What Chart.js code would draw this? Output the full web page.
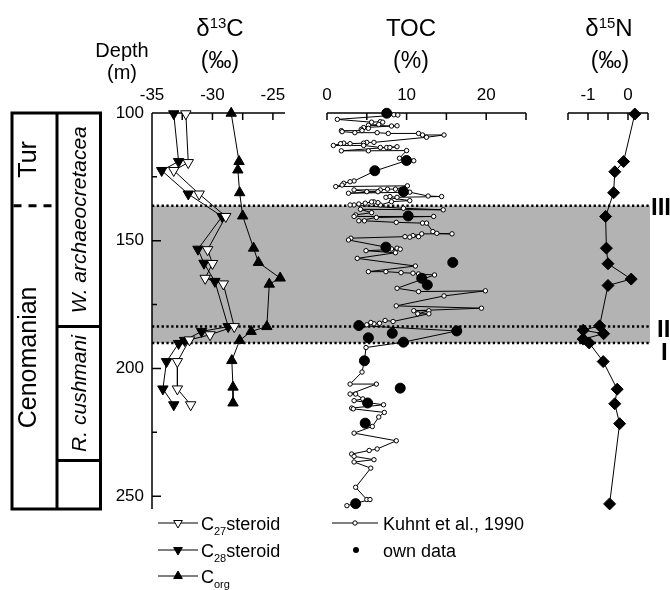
<!DOCTYPE html>
<html>
<head>
<meta charset="utf-8">
<script src="https://cdn.jsdelivr.net/npm/chart.js@4.4.1/dist/chart.umd.min.js"></script>
<style>
  html, body { margin: 0; padding: 0; background: #fff; }
  #wrap { position: relative; width: 670px; height: 590px; }
  #wrap canvas { position: absolute; left: 0; top: 0; }
</style>
</head>
<body>
<div id="wrap">
  <canvas id="c13" width="670" height="590"></canvas>
  <canvas id="toc" width="670" height="590"></canvas>
  <canvas id="n15" width="670" height="590"></canvas>
</div>
<script>
var FONT = '"Liberation Sans", Arial, Helvetica, sans-serif';

// depth axis (m)
var depthMin = 100, depthMax = 255;
var depthTicks = [100, 125, 150, 175, 200, 225, 250];
var depthLabels = [100, 150, 200, 250];

// top axes
var c13Ticks = [-35, -32.5, -30, -27.5, -25], c13Labels = [-35, -30, -25];
var tocTicks = [0, 5, 10, 15, 20, 25], tocLabels = [0, 10, 20];
var n15Ticks = [-1.5, -1, -0.5, 0, 0.5], n15Labels = [-1, 0];

// event levels III, II, I
var eventDepth = [136.3, 183.6, 190.0];
var eventName = ['III', 'II', 'I'];

// stratigraphy
var stageBounds = [100, 136.3, 255];
var stageNames = ['Tur', 'Cenomanian'];
var zoneBounds = [100, 183.6, 236, 255];
var zoneNames = ['W. archaeocretacea', 'R. cushmani', ''];

// delta 13C (per mil)
var c27Depth = [100.3, 119.4, 122.5, 131.7, 140.5, 153.5, 158.9, 164.7, 166.9, 183.6, 186.8, 188.8, 197.3, 208.0, 214.2];
var c27 = [-32.2, -32.0, -33.2, -31.1, -28.9, -30.4, -30.0, -30.6, -29.1, -28.2, -30.2, -31.9, -32.9, -32.9, -31.8];
var c28Depth = [100.3, 119.0, 122.5, 131.7, 140.5, 153.3, 158.8, 165.9, 183.6, 185.5, 189.0, 190.2, 197.3, 208.0, 214.2];
var c28 = [-33.2, -32.8, -34.2, -32.0, -29.2, -31.2, -30.7, -29.8, -28.7, -30.9, -32.3, -32.8, -33.8, -34.1, -33.2];
var corgDepth = [100.1, 119.0, 122.3, 131.2, 140.3, 152.9, 158.5, 164.6, 167.0, 183.6, 185.5, 189.0, 196.9, 207.3, 213.5];
var corg = [-28.45, -27.8, -27.9, -27.75, -27.5, -26.6, -26.2, -24.4, -25.3, -25.5, -26.8, -27.75, -28.4, -28.3, -28.3];

// TOC (%), Kuhnt et al. 1990
var kuhntDepth = [100.7, 100.8, 102.5, 103.6, 103.4, 103.6, 104.5, 104.8, 105.1, 105.0,
  105.7, 106.0, 106.4, 106.9, 106.9, 107.3, 107.7, 107.7, 108.0, 108.0,
  108.6, 108.6, 109.5, 111.5, 111.5, 111.8, 112.0, 111.8, 112.0, 112.7,
  112.7, 113.5, 113.5, 113.5, 113.2, 114.8, 114.8, 114.7, 117.7, 118.7,
  118.6, 122.6, 126.6, 126.9, 127.5, 128.2, 128.8, 128.5, 129.8, 129.8,
  130.1, 130.1, 130.8, 130.8, 131.4, 131.0, 132.5, 132.7, 133.0, 132.7,
  133.0, 134.3, 134.7, 136.0, 135.1, 134.8, 134.8, 135.3, 135.6, 136.0,
  136.0, 137.3, 137.9, 137.7, 139.0, 139.9, 140.5, 140.5, 140.9, 142.2,
  142.2, 142.8, 143.1, 143.1, 146.4, 147.1, 147.3, 147.3, 148.0, 148.4,
  148.6, 148.4, 149.0, 149.7, 152.5, 153.2, 152.9, 153.3, 153.9, 154.7,
  156.9, 159.9, 162.1, 162.1, 162.5, 162.7, 163.0, 163.4, 168.6, 169.9,
  169.6, 171.6, 175.5, 176.4, 177.4, 177.4, 178.6, 178.6, 181.6, 181.2,
  182.3, 182.5, 182.0, 182.9, 183.2, 185.3, 189.7, 191.8, 197.0, 201.4,
  206.1, 206.1, 210.0, 210.0, 211.9, 212.6, 214.2, 215.5, 215.8, 217.2,
  219.0, 222.7, 225.3, 228.3, 231.5, 232.1, 233.5, 234.4, 235.7, 236.6,
  239.0, 246.5, 251.3, 251.3, 253.7];
var kuhntToc = [8.4, 8.9, 1.3, 5.6, 6.7, 7.0, 6.5, 5.2, 8.1, 8.8,
  4.6, 5.2, 4.3, 4.4, 1.8, 1.9, 3.5, 6.3, 7.7, 11.5,
  12.0, 14.7, 12.5, 5.9, 5.0, 4.6, 2.9, 2.1, 1.7, 0.8,
  4.6, 6.7, 7.5, 7.9, 8.8, 1.8, 5.2, 10.0, 9.1, 10.9,
  10.0, 6.1, 3.4, 2.9, 2.1, 1.9, 1.1, 10.1, 8.6, 7.6,
  6.7, 3.4, 5.0, 6.4, 2.7, 10.4, 12.7, 14.4, 8.8, 7.9,
  7.4, 10.4, 8.1, 6.7, 6.4, 5.9, 5.6, 4.8, 4.0, 3.4,
  2.9, 9.6, 14.6, 4.2, 5.6, 3.6, 3.4, 13.4, 6.2, 4.0,
  4.7, 8.7, 12.0, 12.5, 13.3, 13.8, 15.7, 11.9, 10.8, 11.5,
  10.4, 9.8, 3.0, 2.7, 7.4, 8.1, 8.8, 9.2, 4.9, 8.6,
  3.8, 11.1, 5.2, 7.4, 9.3, 10.8, 11.5, 13.5, 8.8, 11.5,
  19.9, 14.7, 8.7, 19.4, 10.9, 12.8, 11.4, 12.8, 8.3, 7.3,
  6.6, 5.9, 5.5, 5.0, 4.0, 16.3, 9.6, 4.9, 4.7, 4.4,
  2.9, 6.2, 2.9, 3.6, 4.5, 3.4, 7.1, 3.1, 3.3, 7.2,
  6.5, 5.7, 3.4, 8.7, 6.3, 5.3, 3.1, 3.4, 5.9, 3.4,
  5.5, 3.6, 5.0, 5.4, 2.5];

// TOC (%), own data
var ownDepth = [100.1, 118.6, 122.6, 130.8, 140.3, 152.5, 158.5, 164.7, 167.3, 183.2, 185.3, 186.2, 188.0, 189.7, 197.0, 207.7, 213.5, 221.4, 252.9];
var ownToc = [7.5, 10.0, 6.0, 9.6, 10.2, 7.4, 15.8, 11.9, 12.6, 4.0, 16.3, 8.2, 5.2, 9.6, 4.7, 9.2, 5.1, 4.8, 3.6];

// delta 15N (per mil)
var n15Depth = [100.4, 119.0, 123.0, 131.2, 140.5, 152.9, 159.0, 165.0, 167.5, 183.3, 185.0, 186.4, 188.5, 190.0, 197.3, 208.1, 213.8, 221.6, 253.0];
var n15 = [0.17, -0.11, -0.33, -0.36, -0.56, -0.54, -0.5, 0.08, -0.5, -0.71, -1.12, -0.61, -1.12, -0.97, -0.62, -0.27, -0.33, -0.21, -0.46];

var TOP_H = 113, BOTTOM_PAD = 81, BAND_RIGHT = 650;

function pts(xs, ys) {
  return xs.map(function (v, i) { return { x: v, y: ys[i] }; });
}

function xAxis(min, max, ticks, labels) {
  return {
    type: 'linear', position: 'top', min: min, max: max,
    grid: { display: false, drawTicks: false }, border: { display: false },
    afterBuildTicks: function (s) { s.ticks = ticks.map(function (v) { return { value: v }; }); },
    afterFit: function (s) { s.height = TOP_H; },
    ticks: {
      autoSkip: false, maxRotation: 0, padding: 7, color: '#000',
      font: { family: FONT, size: 17 },
      callback: function (v) { return labels.indexOf(v) >= 0 ? String(v) : ''; }
    }
  };
}

function yAxis(show) {
  return {
    type: 'linear', reverse: true, min: depthMin, max: depthMax, display: show,
    grid: { display: false, drawTicks: false }, border: { display: false },
    afterBuildTicks: function (s) { s.ticks = depthTicks.map(function (v) { return { value: v }; }); },
    afterFit: function (s) { s.width = show ? 152 : 0; },
    ticks: {
      autoSkip: false, padding: 8, color: '#000',
      font: { family: FONT, size: 17 },
      callback: function (v) { return depthLabels.indexOf(v) >= 0 ? String(v) : ''; }
    }
  };
}

// axis lines with inward ticks
var axisLines = {
  id: 'axisLines',
  beforeDatasetsDraw: function (chart) {
    var ctx = chart.ctx, a = chart.chartArea, x = chart.scales.x, y = chart.scales.y;
    ctx.save();
    ctx.strokeStyle = '#000';
    ctx.lineWidth = 1.5;
    ctx.beginPath();
    ctx.moveTo(a.left, a.top); ctx.lineTo(a.right, a.top);
    x.ticks.forEach(function (t) {
      var px = x.getPixelForValue(t.value);
      ctx.moveTo(px, a.top); ctx.lineTo(px, a.top + 7);
    });
    if (chart.options.scales.y.display) {
      ctx.moveTo(a.left, a.top); ctx.lineTo(a.left, a.bottom);
      y.ticks.forEach(function (t) {
        var py = y.getPixelForValue(t.value);
        var len = depthLabels.indexOf(t.value) >= 0 ? 9 : 5;
        ctx.moveTo(a.left, py); ctx.lineTo(a.left + len, py);
      });
    }
    ctx.stroke();
    ctx.restore();
  }
};

// grey interval and dotted event lines
var bandPlugin = {
  id: 'band',
  beforeDraw: function (chart) {
    var ctx = chart.ctx, a = chart.chartArea, y = chart.scales.y;
    var y0 = y.getPixelForValue(eventDepth[0]), y1 = y.getPixelForValue(eventDepth[2]);
    ctx.save();
    ctx.fillStyle = '#b3b3b3';
    ctx.fillRect(a.left, y0, BAND_RIGHT - a.left, y1 - y0);
    ctx.restore();
  },
  beforeDatasetsDraw: function (chart) {
    var ctx = chart.ctx, a = chart.chartArea, y = chart.scales.y;
    ctx.save();
    ctx.strokeStyle = '#000';
    ctx.lineWidth = 2.5;
    ctx.setLineDash([2.3, 2.5]);
    eventDepth.forEach(function (d) {
      var py = y.getPixelForValue(d);
      ctx.beginPath(); ctx.moveTo(a.left, py); ctx.lineTo(BAND_RIGHT, py); ctx.stroke();
    });
    ctx.restore();
  }
};

function rich(ctx, parts, x, base, align) {
  var total = 0;
  parts.forEach(function (p) {
    ctx.font = (p.style || '') + ' ' + p.size + 'px ' + FONT;
    p.w = ctx.measureText(p.t).width;
    total += p.w;
  });
  var cx = align === 'center' ? x - total / 2 : x;
  ctx.textAlign = 'left';
  ctx.textBaseline = 'alphabetic';
  parts.forEach(function (p) {
    ctx.font = (p.style || '') + ' ' + p.size + 'px ' + FONT;
    ctx.fillText(p.t, cx, base + (p.dy || 0));
    cx += p.w;
  });
}

function tri(ctx, x, y, r, down, fill) {
  var s = down ? -1 : 1;
  ctx.beginPath();
  ctx.moveTo(x, y - s * r);
  ctx.lineTo(x + 0.866 * r, y + s * 0.5 * r);
  ctx.lineTo(x - 0.866 * r, y + s * 0.5 * r);
  ctx.closePath();
  ctx.fillStyle = fill;
  ctx.fill();
  ctx.stroke();
}

// titles, stratigraphic column, legend, event names
var decor = {
  id: 'decor',
  afterDraw: function (chart) {
    var ctx = chart.ctx, y = chart.scales.y;
    ctx.save();
    ctx.fillStyle = '#000';
    ctx.strokeStyle = '#000';

    // titles
    rich(ctx, [{ t: 'Depth', size: 20 }], 122, 57, 'center');
    rich(ctx, [{ t: '(m)', size: 20 }], 122, 79, 'center');
    rich(ctx, [{ t: '\u03b4', size: 24 }, { t: '13', size: 15, dy: -8 }, { t: 'C', size: 24 }], 220, 36, 'center');
    rich(ctx, [{ t: '(\u2030)', size: 23 }], 220, 68, 'center');
    rich(ctx, [{ t: 'TOC', size: 24 }], 411, 36, 'center');
    rich(ctx, [{ t: '(%)', size: 23 }], 411, 68, 'center');
    rich(ctx, [{ t: '\u03b4', size: 24 }, { t: '15', size: 15, dy: -8 }, { t: 'N', size: 24 }], 609, 36, 'center');
    rich(ctx, [{ t: '(\u2030)', size: 23 }], 610, 68, 'center');

    // stratigraphic column
    var L = 12, M = 57, R = 100.5;
    var top = y.getPixelForValue(stageBounds[0]), bot = y.getPixelForValue(stageBounds[2]);
    ctx.lineWidth = 3;
    ctx.strokeRect(L, top, R - L, bot - top);
    ctx.beginPath();
    ctx.moveTo(M, top); ctx.lineTo(M, bot);
    zoneBounds.slice(1, -1).forEach(function (d) {
      var py = y.getPixelForValue(d);
      ctx.moveTo(M, py); ctx.lineTo(R, py);
    });
    ctx.stroke();
    ctx.setLineDash([8, 7]);
    ctx.beginPath();
    var sp = y.getPixelForValue(stageBounds[1]);
    ctx.moveTo(L + 1.5, sp); ctx.lineTo(M, sp);
    ctx.stroke();
    ctx.setLineDash([]);

    function vtext(txt, cx, d0, d1, font) {
      var cy = (y.getPixelForValue(d0) + y.getPixelForValue(d1)) / 2;
      ctx.save();
      ctx.translate(cx, cy);
      ctx.rotate(-Math.PI / 2);
      ctx.font = font;
      ctx.textAlign = 'center';
      ctx.textBaseline = 'middle';
      ctx.fillText(txt, 0, 0);
      ctx.restore();
    }
    stageNames.forEach(function (n, i) {
      vtext(n, 29, stageBounds[i], stageBounds[i + 1], '25px ' + FONT);
    });
    zoneNames.forEach(function (n, i) {
      if (n) vtext(n, 80, zoneBounds[i], zoneBounds[i + 1], 'italic 21px ' + FONT);
    });

    // event names
    ctx.font = 'bold 24px ' + FONT;
    ctx.textAlign = 'left';
    ctx.textBaseline = 'alphabetic';
    var ex = [651, 657, 661], eb = [9, 10, 17];
    eventName.forEach(function (n, i) {
      ctx.fillText(n, ex[i], y.getPixelForValue(eventDepth[i]) + eb[i]);
    });

    // legend
    var rows = [523, 550, 576];
    ctx.lineWidth = 1;
    ctx.beginPath();
    rows.forEach(function (ry) { ctx.moveTo(158, ry); ctx.lineTo(198, ry); });
    ctx.moveTo(332, rows[0]); ctx.lineTo(378, rows[0]);
    ctx.stroke();
    tri(ctx, 178, rows[0], 5, true, '#fff');
    tri(ctx, 178, rows[1], 5, true, '#000');
    tri(ctx, 178, rows[2], 5, false, '#000');
    ctx.beginPath(); ctx.arc(355, rows[0], 2.2, 0, Math.PI * 2);
    ctx.fillStyle = '#fff'; ctx.fill(); ctx.stroke();
    ctx.beginPath(); ctx.arc(356, rows[1], 3, 0, Math.PI * 2);
    ctx.fillStyle = '#000'; ctx.fill();
    var tb = 6.5;
    rich(ctx, [{ t: 'C', size: 18 }, { t: '27', size: 11, dy: 5 }, { t: 'steroid', size: 18 }], 201, rows[0] + tb, 'left');
    rich(ctx, [{ t: 'C', size: 18 }, { t: '28', size: 11, dy: 5 }, { t: 'steroid', size: 18 }], 201, rows[1] + tb, 'left');
    rich(ctx, [{ t: 'C', size: 18 }, { t: 'org', size: 11, dy: 5 }], 201, rows[2] + tb, 'left');
    rich(ctx, [{ t: 'Kuhnt et al., 1990', size: 18 }], 383, rows[0] + tb, 'left');
    rich(ctx, [{ t: 'own data', size: 18 }], 383, rows[1] + tb, 'left');
    ctx.restore();
  }
};

function lineSet(data, style, rot, fill, r) {
  return {
    data: data, showLine: true, borderColor: '#000', borderWidth: 1,
    pointStyle: style, pointRotation: rot, pointRadius: r, pointHoverRadius: r,
    pointBackgroundColor: fill, pointBorderColor: '#000', pointBorderWidth: 1, clip: false
  };
}

function baseOptions(left, right, showY, xScale) {
  return {
    responsive: false, animation: false, events: [],
    layout: { padding: { left: left, right: right, top: 0, bottom: BOTTOM_PAD } },
    plugins: { legend: { display: false }, tooltip: { enabled: false } },
    scales: { x: xScale, y: yAxis(showY) }
  };
}

new Chart(document.getElementById('c13').getContext('2d'), {
  type: 'scatter',
  data: {
    datasets: [
      lineSet(pts(c27, c27Depth), 'triangle', 180, '#fff', 6),
      lineSet(pts(c28, c28Depth), 'triangle', 180, '#000', 6),
      lineSet(pts(corg, corgDepth), 'triangle', 0, '#000', 6)
    ]
  },
  options: baseOptions(0, 670 - 285, true, xAxis(-35, -24, c13Ticks, c13Labels)),
  plugins: [bandPlugin, axisLines, decor]
});

new Chart(document.getElementById('toc').getContext('2d'), {
  type: 'scatter',
  data: {
    datasets: [
      { data: pts(ownToc, ownDepth), pointRadius: 5, pointHoverRadius: 5, pointBackgroundColor: '#000', pointBorderColor: '#000', showLine: false, clip: false },
      lineSet(pts(kuhntToc, kuhntDepth), 'circle', 0, '#fff', 2.2)
    ]
  },
  options: baseOptions(327, 670 - 526, false, xAxis(0, 25, tocTicks, tocLabels)),
  plugins: [axisLines]
});

new Chart(document.getElementById('n15').getContext('2d'), {
  type: 'scatter',
  data: {
    datasets: [lineSet(pts(n15, n15Depth), 'rectRot', 0, '#000', 6)]
  },
  options: baseOptions(568, 670 - 648, false, xAxis(-1.5, 0.5, n15Ticks, n15Labels)),
  plugins: [axisLines]
});
</script>
</body>
</html>
